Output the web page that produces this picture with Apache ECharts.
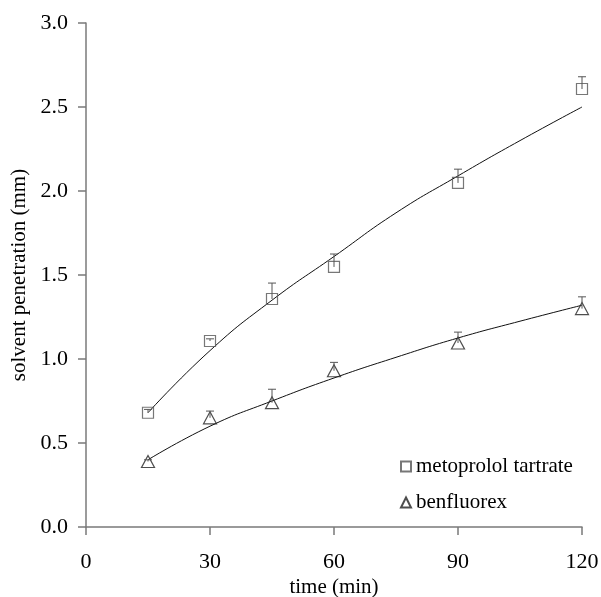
<!DOCTYPE html>
<html><head><meta charset="utf-8">
<script src="https://cdn.jsdelivr.net/npm/echarts@6/dist/echarts.min.js"></script>
<style>html,body{margin:0;padding:0;background:#fff}#c{width:601px;height:597px}</style>
</head><body><div id="c"></div>
<script>
const times = [15, 30, 45, 60, 90, 120];
const metoprolol = [0.68, 1.107, 1.357, 1.548, 2.048, 2.607];
const metoprololErrTop = [0.70, 1.12, 1.452, 1.625, 2.13, 2.68];
const benfluorex = [0.39, 0.65, 0.74, 0.93, 1.095, 1.30];
const benfluorexErrTop = [0.40, 0.69, 0.82, 0.98, 1.16, 1.37];
const fitTimes = [15, 30, 45, 60, 75, 90, 105, 120];
const metoprololFit = [0.68, 1.05, 1.35, 1.61, 1.87, 2.09, 2.30, 2.50];
const benfluorexFit = [0.40, 0.60, 0.75, 0.887, 1.01, 1.125, 1.225, 1.32];
const xTicks = [0, 30, 60, 90, 120];
const yTicks = [0, 0.5, 1.0, 1.5, 2.0, 2.5, 3.0];

const font = 'Liberation Serif';
const axisColor = '#7a7a7a';
const markColor = '#555';

function errSeries(vals, tops) {
  return {
    type: 'custom', silent: true, z: 5,
    data: times.map((t, i) => [t, vals[i], tops[i]]),
    renderItem: function (params, api) {
      const p0 = api.coord([api.value(0), api.value(1)]);
      const p1 = api.coord([api.value(0), api.value(2)]);
      const st = { stroke: markColor, lineWidth: 1 };
      return { type: 'group', children: [
        { type: 'line', shape: { x1: p0[0], y1: p0[1], x2: p1[0], y2: p1[1] }, style: st },
        { type: 'line', shape: { x1: p1[0] - 4, y1: p1[1], x2: p1[0] + 4, y2: p1[1] }, style: st }
      ]};
    }
  };
}

const chart = echarts.init(document.getElementById('c'));
chart.setOption({
  animation: false,
  backgroundColor: '#fff',
  grid: { left: 86, right: 19, top: 23, bottom: 70, containLabel: false, outerBoundsMode: 'none' },
  legend: {
    orient: 'vertical', left: 395, top: 451, itemGap: 15,
    itemWidth: 10, itemHeight: 10,
    textStyle: { fontFamily: font, fontSize: 21, color: '#000' },
    data: ['metoprolol tartrate', 'benfluorex']
  },
  xAxis: {
    type: 'value', min: 0, max: 120, interval: 30,
    name: 'time (min)', nameLocation: 'middle', nameGap: 50, nameMoveOverlap: false,
    nameTextStyle: { fontFamily: font, fontSize: 21, color: '#000' },
    axisLine: { lineStyle: { color: axisColor, width: 1.5 } },
    axisTick: { show: true, length: 8, lineStyle: { color: axisColor, width: 1.5 } },
    axisLabel: { fontFamily: font, fontSize: 22, color: '#000', margin: 24,
      customValues: xTicks },
    splitLine: { show: false }
  },
  yAxis: {
    type: 'value', min: 0, max: 3, interval: 0.5,
    name: 'solvent penetration (mm)', nameLocation: 'middle', nameGap: 56, nameMoveOverlap: false,
    nameTextStyle: { fontFamily: font, fontSize: 21, color: '#000' },
    axisLine: { show: true, lineStyle: { color: axisColor, width: 1.5 } },
    axisTick: { show: true, length: 8, lineStyle: { color: axisColor, width: 1.5 } },
    axisLabel: { fontFamily: font, fontSize: 22, color: '#000', margin: 18,
      formatter: v => v.toFixed(1) },
    splitLine: { show: false }
  },
  series: [
    { type: 'line', smooth: true, symbol: 'none', silent: true, z: 2,
      data: fitTimes.map((t, i) => [t, metoprololFit[i]]),
      lineStyle: { color: '#111', width: 1 } },
    { type: 'line', smooth: true, symbol: 'none', silent: true, z: 2,
      data: fitTimes.map((t, i) => [t, benfluorexFit[i]]),
      lineStyle: { color: '#111', width: 1 } },
    { name: 'metoprolol tartrate', type: 'scatter', symbol: 'rect', symbolSize: 11, z: 3,
      data: times.map((t, i) => [t, metoprolol[i]]),
      itemStyle: { color: 'rgba(255,255,255,0)', borderColor: markColor, borderWidth: 1.2 } },
    { name: 'benfluorex', type: 'scatter', symbol: 'triangle', symbolSize: [13, 12], z: 3,
      data: times.map((t, i) => [t, benfluorex[i]]),
      itemStyle: { color: 'rgba(255,255,255,0)', borderColor: '#222', borderWidth: 1.2 } },
    errSeries(metoprolol, metoprololErrTop),
    errSeries(benfluorex, benfluorexErrTop)
  ]
});
</script></body></html>
